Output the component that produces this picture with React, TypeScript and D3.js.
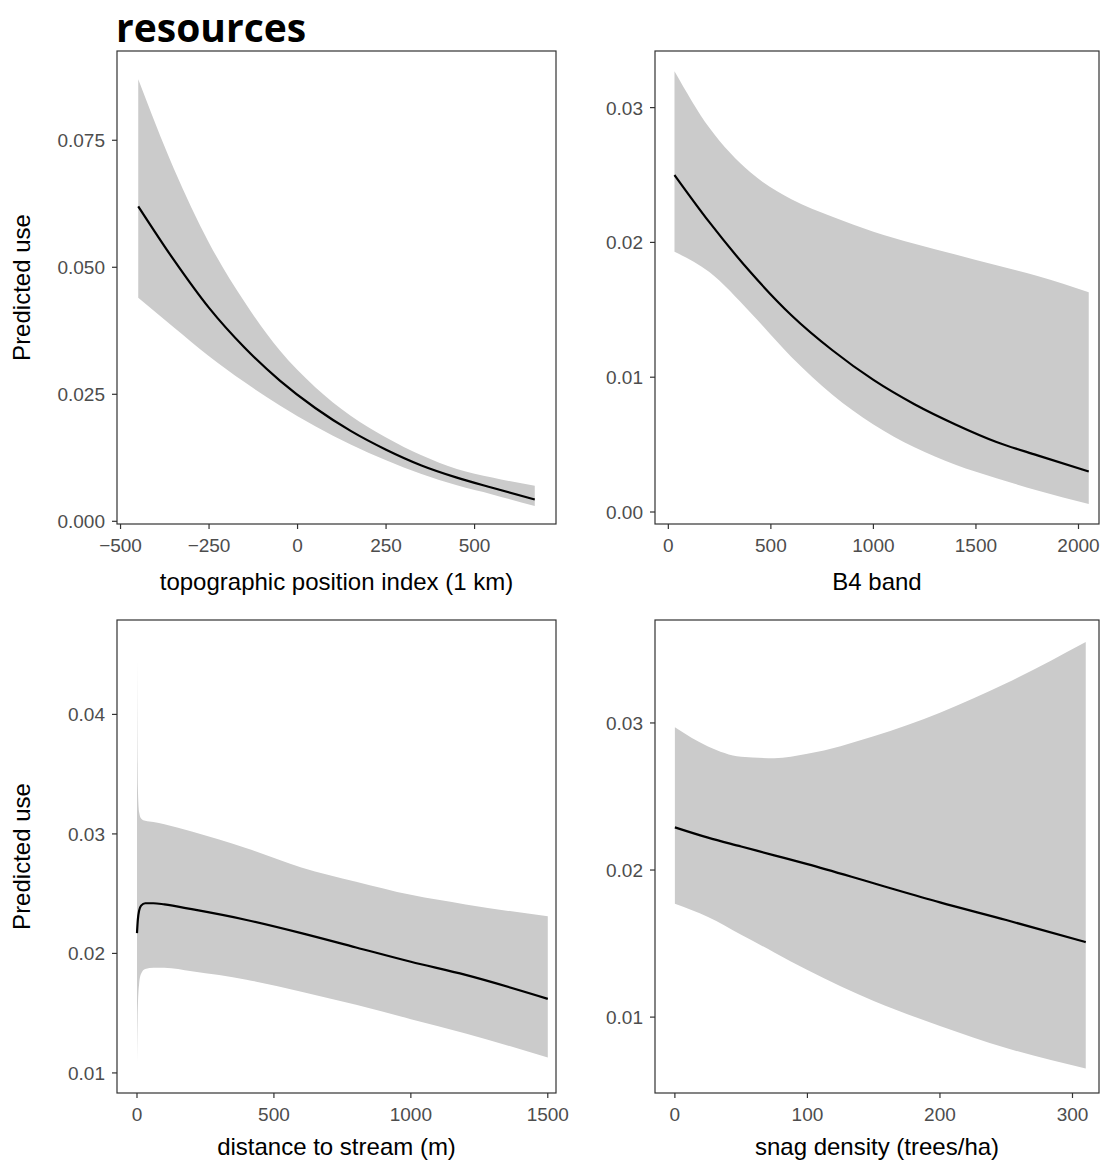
import React from "react";
import * as d3 from "d3";

const tpiX = [-450, -350, -250, -150, -50, 50, 150, 250, 350, 450, 550, 670];
const tpiFit = [0.062, 0.0515, 0.042, 0.0342, 0.0277, 0.0223, 0.0178, 0.0141, 0.011, 0.0086, 0.0066, 0.0043];
const tpiLo = [0.044, 0.0382, 0.0325, 0.0274, 0.0228, 0.0187, 0.0151, 0.012, 0.0093, 0.0071, 0.0053, 0.003];
const tpiHi = [0.087, 0.0695, 0.0548, 0.0432, 0.0336, 0.0264, 0.0208, 0.0165, 0.013, 0.0103, 0.0086, 0.007];

const b4X = [30, 200, 400, 600, 800, 1000, 1200, 1400, 1600, 1800, 2050];
const b4Fit = [0.025, 0.0215, 0.0178, 0.0146, 0.012, 0.0098, 0.008, 0.0065, 0.0052, 0.0042, 0.003];
const b4Lo = [0.0193, 0.0178, 0.0148, 0.0115, 0.0087, 0.0065, 0.0048, 0.0035, 0.0025, 0.0016, 0.0006];
const b4Hi = [0.0327, 0.0285, 0.0252, 0.0232, 0.0219, 0.0208, 0.0199, 0.0191, 0.0183, 0.0175, 0.0163];

const dsX = [0, 3, 8, 15, 30, 60, 100, 200, 400, 600, 800, 1000, 1200, 1500];
const dsFit = [0.0217, 0.0228, 0.0236, 0.024, 0.0242, 0.0242, 0.0241, 0.0237, 0.0228, 0.0217, 0.0205, 0.0193, 0.0182, 0.0162];
const dsLo = [0.01, 0.0155, 0.0175, 0.0183, 0.0187, 0.0188, 0.0188, 0.0185, 0.0178, 0.0168, 0.0157, 0.0145, 0.0133, 0.0113];
const dsHi = [0.045, 0.034, 0.0318, 0.0313, 0.0311, 0.031, 0.0308, 0.0302, 0.0288, 0.0272, 0.026, 0.0249, 0.0241, 0.0231];

const snX = [0, 25, 50, 75, 100, 150, 200, 250, 310];
const snFit = [0.0229, 0.0222, 0.0216, 0.021, 0.0204, 0.0191, 0.0178, 0.0166, 0.0151];
const snLo = [0.0177, 0.0168, 0.0156, 0.0144, 0.0132, 0.0111, 0.0094, 0.0079, 0.0065];
const snHi = [0.0297, 0.0284, 0.0277, 0.0276, 0.0279, 0.0291, 0.0307, 0.0327, 0.0355];

const tpiXTicks = [-500, -250, 0, 250, 500];
const tpiYTicks = [0, 0.025, 0.05, 0.075];
const b4XTicks = [0, 500, 1000, 1500, 2000];
const b4YTicks = [0, 0.01, 0.02, 0.03];
const dsXTicks = [0, 500, 1000, 1500];
const dsYTicks = [0.01, 0.02, 0.03, 0.04];
const snXTicks = [0, 100, 200, 300];
const snYTicks = [0.01, 0.02, 0.03];

type P = {
  left: number; top: number; right: number; bottom: number;
  xd: [number, number]; yd: [number, number];
  xs: number[]; fit: number[]; lo: number[]; hi: number[];
  xt: number[]; yt: number[]; yfmt: (v: number) => string;
  xlabel: string; ylabel?: string;
};

const FONT = "Liberation Sans, Arial, sans-serif";

function Panel(p: P) {
  const x = d3.scaleLinear().domain(p.xd).range([p.left, p.right]);
  const y = d3.scaleLinear().domain(p.yd).range([p.bottom, p.top]);
  const idx = p.xs.map((_, i) => i);
  const area = d3.area<number>().x(i => x(p.xs[i])).y0(i => y(p.lo[i])).y1(i => y(p.hi[i])).curve(d3.curveMonotoneX);
  const line = d3.line<number>().x(i => x(p.xs[i])).y(i => y(p.fit[i])).curve(d3.curveMonotoneX);
  return (
    <g fontFamily={FONT}>
      <path d={area(idx)!} fill="#cbcbcb" />
      <path d={line(idx)!} fill="none" stroke="#000" strokeWidth={2.2} />
      <rect x={p.left} y={p.top} width={p.right - p.left} height={p.bottom - p.top} fill="none" stroke="#333" strokeWidth={1.2} />
      {p.xt.map(t => (
        <g key={"x" + t}>
          <line x1={x(t)} x2={x(t)} y1={p.bottom} y2={p.bottom + 5} stroke="#333" strokeWidth={1.2} />
          <text x={x(t)} y={p.bottom + 28} textAnchor="middle" fontSize={19} fill="#4d4d4d">{t < 0 ? "\u2212" + (-t) : t}</text>
        </g>
      ))}
      {p.yt.map(t => (
        <g key={"y" + t}>
          <line x1={p.left - 5} x2={p.left} y1={y(t)} y2={y(t)} stroke="#333" strokeWidth={1.2} />
          <text x={p.left - 12} y={y(t) + 7} textAnchor="end" fontSize={19} fill="#4d4d4d">{p.yfmt(t)}</text>
        </g>
      ))}
      <text x={(p.left + p.right) / 2} y={Math.min(p.bottom + 66, 1155)} textAnchor="middle" fontSize={24} fill="#000">{p.xlabel}</text>
      {p.ylabel && (
        <text transform={`translate(${p.left - 87},${(p.top + p.bottom) / 2}) rotate(-90)`} textAnchor="middle" fontSize={24} fill="#000">{p.ylabel}</text>
      )}
    </g>
  );
}

export default function App() {
  return (
    <svg width={1100} height={1161} style={{ position: "absolute", left: 0, top: 0, background: "#fff" }}>
      <rect width={1100} height={1161} fill="#fff" />
      <text x={116} y={42} fontFamily="Open Sans, Liberation Sans, sans-serif" fontWeight="bold" fontSize={39}>resources</text>
      <Panel left={117} top={51} right={556} bottom={524} xd={[-510, 730]} yd={[-0.00053, 0.09257]}
        xs={tpiX} fit={tpiFit} lo={tpiLo} hi={tpiHi} xt={tpiXTicks} yt={tpiYTicks} yfmt={d3.format(".3f")}
        xlabel="topographic position index (1 km)" ylabel="Predicted use" />
      <Panel left={655} top={51} right={1099} bottom={524} xd={[-65, 2100]} yd={[-0.00089, 0.0342]}
        xs={b4X} fit={b4Fit} lo={b4Lo} hi={b4Hi} xt={b4XTicks} yt={b4YTicks} yfmt={d3.format(".2f")}
        xlabel="B4 band" />
      <Panel left={117} top={620} right={556} bottom={1093} xd={[-73, 1530]} yd={[0.00832, 0.0479]}
        xs={dsX} fit={dsFit} lo={dsLo} hi={dsHi} xt={dsXTicks} yt={dsYTicks} yfmt={d3.format(".2f")}
        xlabel="distance to stream (m)" ylabel="Predicted use" />
      <Panel left={655} top={620} right={1099} bottom={1093} xd={[-15, 320]} yd={[0.00484, 0.0370]}
        xs={snX} fit={snFit} lo={snLo} hi={snHi} xt={snXTicks} yt={snYTicks} yfmt={d3.format(".2f")}
        xlabel="snag density (trees/ha)" />
    </svg>
  );
}
